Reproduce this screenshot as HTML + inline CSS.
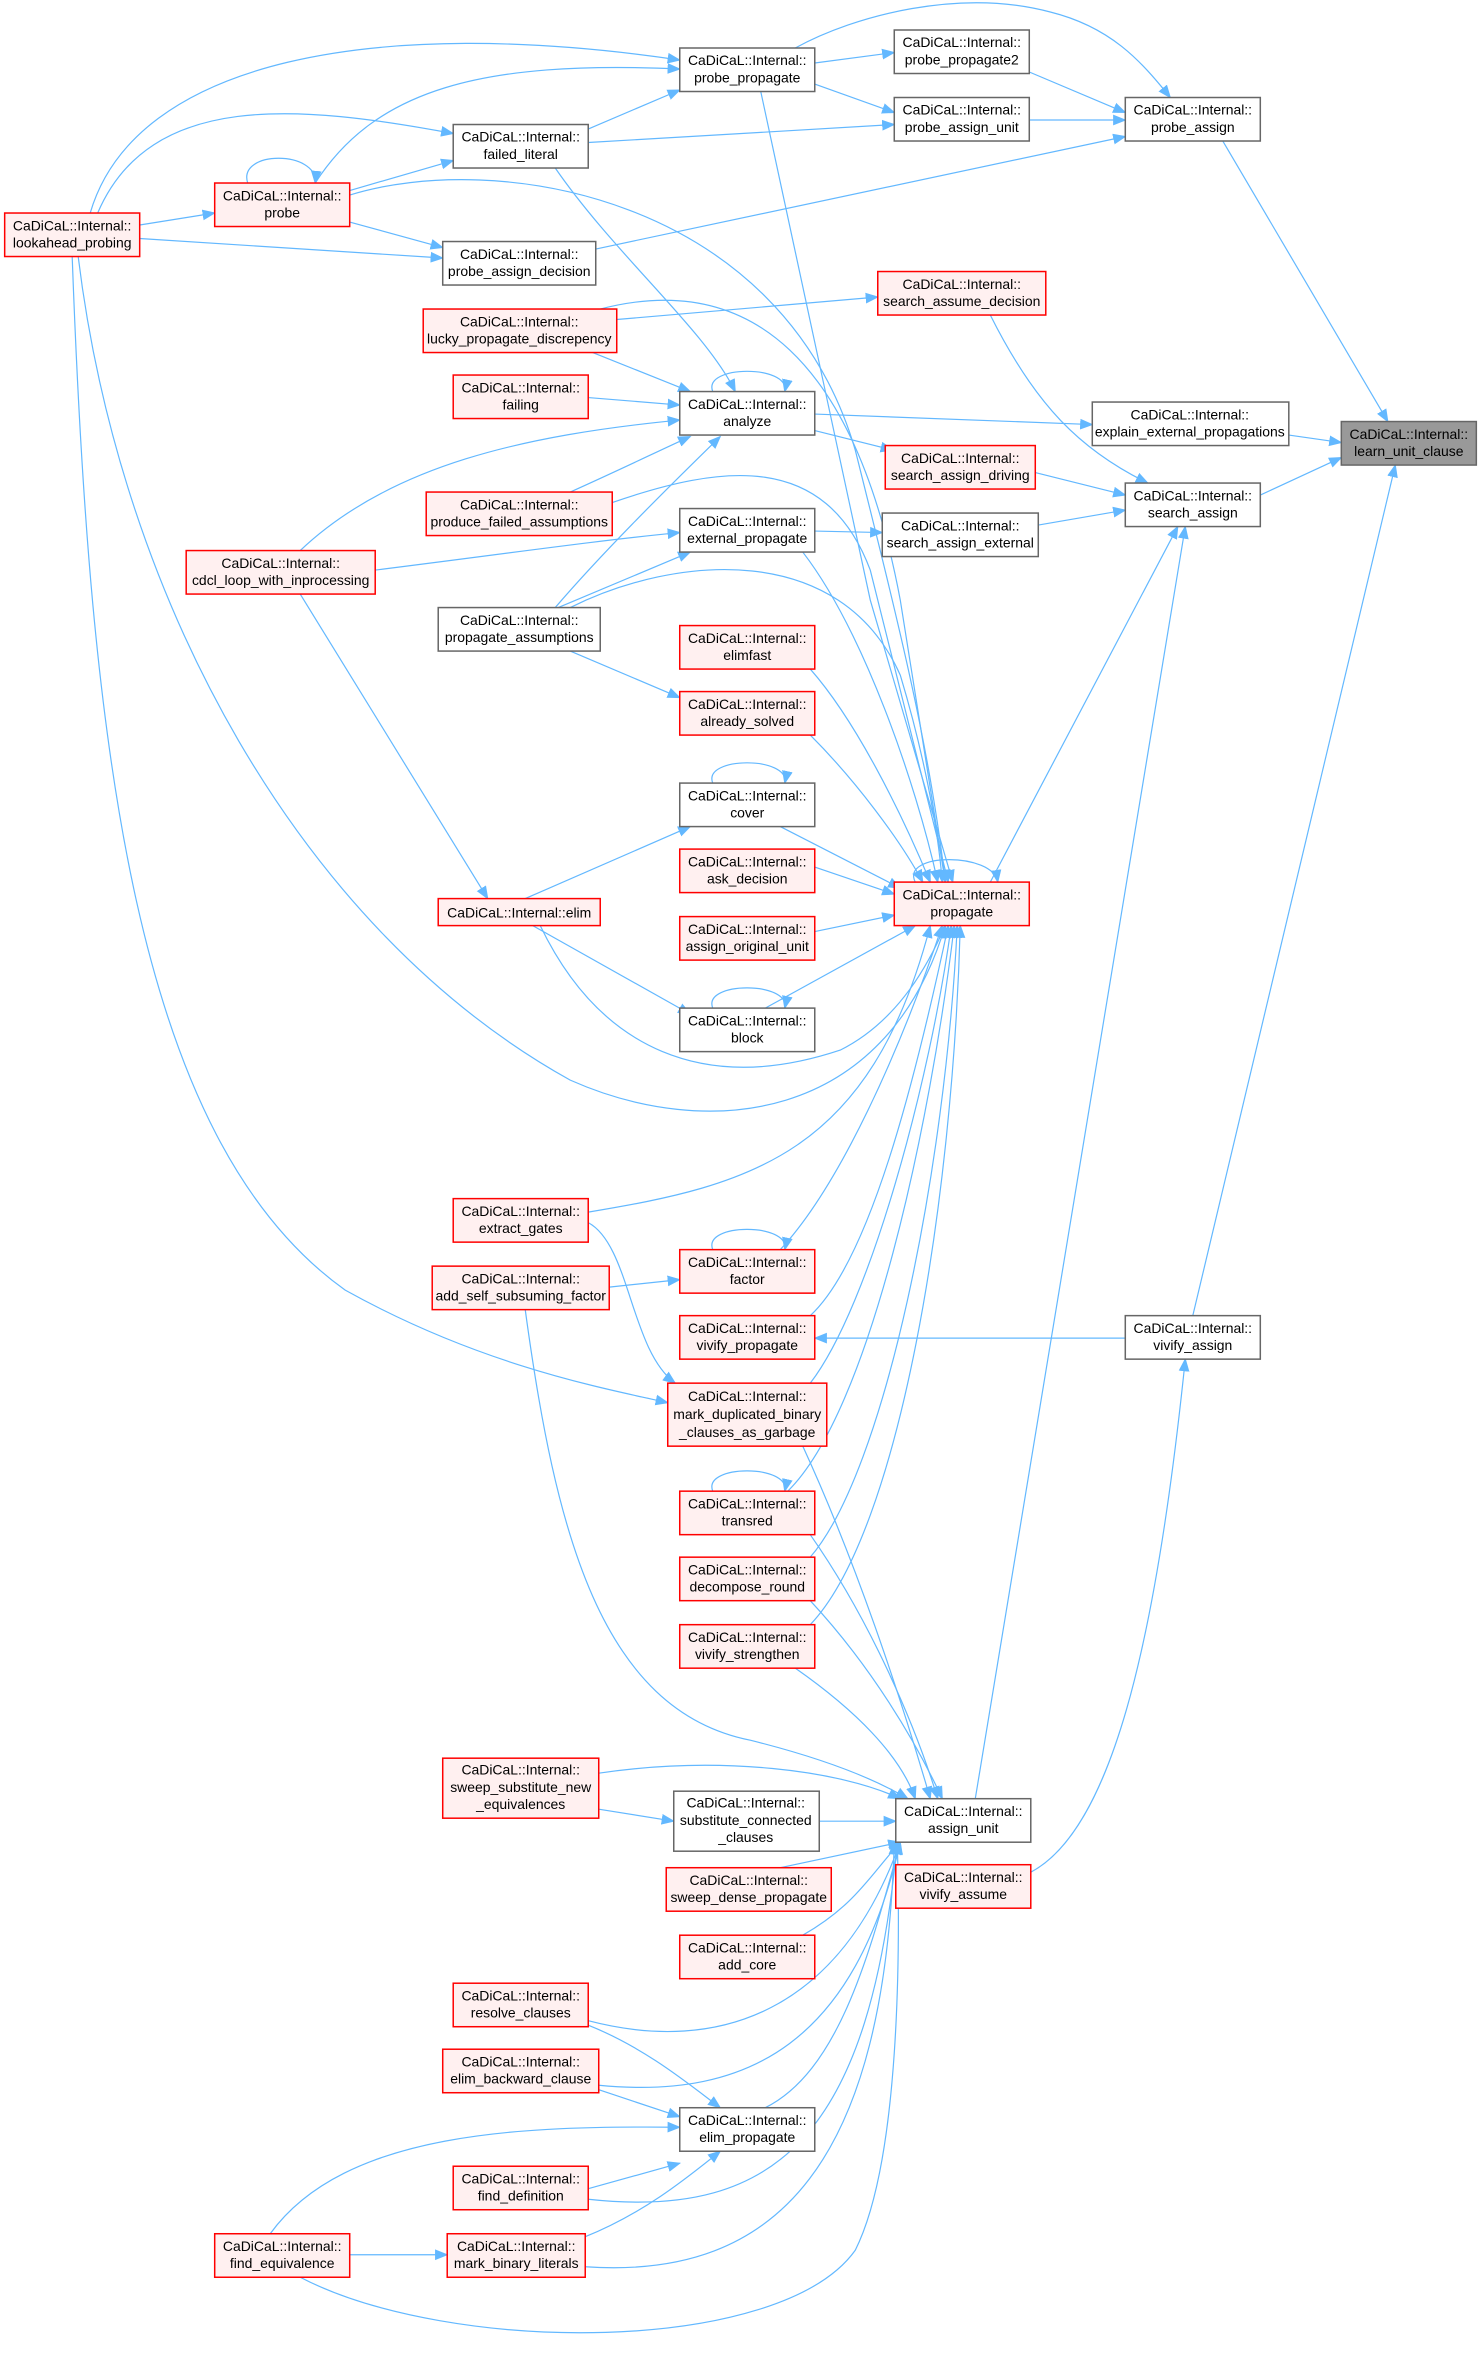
<!DOCTYPE html>
<html><head><meta charset="utf-8"><style>
html,body{margin:0;padding:0;background:#fff;}
svg{display:block}
text{font-family:"Liberation Sans",Arial,sans-serif;font-size:9.3px;fill:#000;text-anchor:middle}
.w{fill:#fff;stroke:#666;stroke-width:1}
.r{fill:#fff0f0;stroke:#f00;stroke-width:1}
.g{fill:#999;stroke:#666;stroke-width:1}
path.e{fill:none;stroke:#63b8ff;stroke-width:0.8;marker-end:url(#a)}
</style></head><body>
<svg width="1478" height="2353" viewBox="0 0 985 1568.5" xmlns="http://www.w3.org/2000/svg">
<defs><marker id="a" viewBox="0 0 10 10" refX="9" refY="5" markerWidth="9" markerHeight="9" markerUnits="userSpaceOnUse" orient="auto"><path d="M0,1 L10,5 L0,9 z" fill="#63b8ff"/></marker></defs>
<g>
<path class="e" d="M543,42 L596,35"/>
<path class="e" d="M543,56 L596,75"/>
<path class="e" d="M686,48 L750,75"/>
<path class="e" d="M686,80 L750,80"/>
<path class="e" d="M815,94 L925,281"/>
<path class="e" d="M530,32 C570,10 640,-8 700,8 C740,18 760,40 780,65"/>
<path class="e" d="M392,86 L453,60"/>
<path class="e" d="M392,95 L596,83"/>
<path class="e" d="M233,127 L302,107"/>
<path class="e" d="M165,122 C158,100 212,100 210,122"/>
<path class="e" d="M210,122 C250,60 320,40 453,46"/>
<path class="e" d="M233,148 L295,165"/>
<path class="e" d="M93,150 L143,142"/>
<path class="e" d="M93,159 L295,172"/>
<path class="e" d="M60,142 C90,40 250,10 453,40"/>
<path class="e" d="M65,142 C100,60 200,70 302,89"/>
<path class="e" d="M397,166 L750,91"/>
<path class="e" d="M660,210 C690,270 720,300 765,322"/>
<path class="e" d="M411,213 L585,198"/>
<path class="e" d="M395,235 L460,261"/>
<path class="e" d="M392,265 L453,270"/>
<path class="e" d="M475,261 C468,243 527,243 523,261"/>
<path class="e" d="M370,112 C410,170 470,220 490,261"/>
<path class="e" d="M543,276 L728,283"/>
<path class="e" d="M859,290 L894,295"/>
<path class="e" d="M543,287 L595,300"/>
<path class="e" d="M690,315 L750,330"/>
<path class="e" d="M840,330 L894,305"/>
<path class="e" d="M692,350 L750,340"/>
<path class="e" d="M543,354 L588,355"/>
<path class="e" d="M380,328 C420,310 440,300 460,291"/>
<path class="e" d="M200,367 C260,310 350,290 453,280"/>
<path class="e" d="M250,380 C330,370 400,360 453,355"/>
<path class="e" d="M370,405 C400,370 440,330 480,291"/>
<path class="e" d="M372,405 L460,368"/>
<path class="e" d="M380,434 L453,465"/>
<path class="e" d="M350,599 L460,551"/>
<path class="e" d="M475,522 C468,504 527,504 523,522"/>
<path class="e" d="M200,396 L325,599"/>
<path class="e" d="M355,617 L460,676"/>
<path class="e" d="M475,672 C468,654 527,654 523,672"/>
<path class="e" d="M520,551 L600,592"/>
<path class="e" d="M543,578 L596,596"/>
<path class="e" d="M543,621 L596,610"/>
<path class="e" d="M510,672 L610,617"/>
<path class="e" d="M540,446 C570,480 600,540 620,588"/>
<path class="e" d="M540,490 C570,520 600,560 615,588"/>
<path class="e" d="M535,368 C575,420 610,520 625,588"/>
<path class="e" d="M380,405 C450,370 560,360 600,450 C615,500 625,550 628,588"/>
<path class="e" d="M233,130 C330,100 520,130 570,300 C600,420 620,500 630,588"/>
<path class="e" d="M400,206 C500,180 570,240 600,400 L630,588"/>
<path class="e" d="M408,335 C480,310 550,300 580,380 L632,588"/>
<path class="e" d="M507,61 L580,400 L635,588"/>
<path class="e" d="M610,588 C600,568 662,568 665,588"/>
<path class="e" d="M660,588 L785,351"/>
<path class="e" d="M360,617 C400,700 470,730 560,700 C600,680 620,640 630,617"/>
<path class="e" d="M52,171 C80,400 200,620 380,720 C470,760 590,750 630,617"/>
<path class="e" d="M392,808 C500,790 580,770 620,617"/>
<path class="e" d="M520,833 C560,790 600,700 628,617"/>
<path class="e" d="M540,877 C580,840 610,720 632,617"/>
<path class="e" d="M540,922 C580,870 620,720 634,617"/>
<path class="e" d="M525,994 C580,940 620,750 636,617"/>
<path class="e" d="M540,1038 C590,980 630,780 638,617"/>
<path class="e" d="M540,1083 C600,1020 635,800 640,617"/>
<path class="e" d="M406,858 L453,853"/>
<path class="e" d="M475,833 C468,815 527,815 523,833"/>
<path class="e" d="M392,815 C420,830 420,900 450,922"/>
<path class="e" d="M48,171 C60,500 90,760 230,860 C320,910 400,925 445,935"/>
<path class="e" d="M475,994 C468,976 527,976 523,994"/>
<path class="e" d="M750,892 L543,892"/>
<path class="e" d="M795,877 L930,310"/>
<path class="e" d="M687,1248 C740,1220 770,1100 790,906"/>
<path class="e" d="M650,1199 L790,351"/>
<path class="e" d="M535,964 C570,1040 600,1130 620,1199"/>
<path class="e" d="M540,1023 C580,1080 610,1150 625,1199"/>
<path class="e" d="M540,1067 C580,1110 610,1160 628,1199"/>
<path class="e" d="M530,1112 C570,1140 600,1170 610,1199"/>
<path class="e" d="M350,873 C370,1020 400,1140 500,1160 C560,1175 590,1190 605,1199"/>
<path class="e" d="M399,1182 C480,1170 560,1180 600,1199"/>
<path class="e" d="M399,1206 L449,1214"/>
<path class="e" d="M546,1214 L597,1214"/>
<path class="e" d="M520,1245 L600,1228"/>
<path class="e" d="M535,1290 C570,1270 580,1250 600,1228"/>
<path class="e" d="M392,1347 C480,1370 560,1340 600,1228"/>
<path class="e" d="M399,1390 C500,1400 570,1360 600,1228"/>
<path class="e" d="M392,1350 C430,1365 460,1390 480,1405"/>
<path class="e" d="M399,1393 L453,1411"/>
<path class="e" d="M180,1489 C230,1420 350,1417 453,1418"/>
<path class="e" d="M392,1459 L453,1442"/>
<path class="e" d="M390,1491 C430,1475 460,1450 480,1434"/>
<path class="e" d="M392,1466 C520,1480 580,1420 598,1228"/>
<path class="e" d="M390,1511 C520,1520 590,1440 596,1228"/>
<path class="e" d="M233,1503 L298,1503"/>
<path class="e" d="M200,1518 C300,1570 520,1570 570,1500 C600,1440 600,1300 598,1228"/>
<path class="e" d="M510,1405 C560,1380 580,1300 600,1228"/>
</g>
<g>
<rect class="w" x="453" y="32" width="90" height="29"/><text x="498" y="43.5">CaDiCaL::Internal::</text><text x="498" y="55">probe_propagate</text>
<rect class="w" x="596" y="20" width="90" height="29"/><text x="641" y="31.5">CaDiCaL::Internal::</text><text x="641" y="43">probe_propagate2</text>
<rect class="w" x="596" y="65" width="90" height="29"/><text x="641" y="76.5">CaDiCaL::Internal::</text><text x="641" y="88">probe_assign_unit</text>
<rect class="w" x="750" y="65" width="90" height="29"/><text x="795" y="76.5">CaDiCaL::Internal::</text><text x="795" y="88">probe_assign</text>
<rect class="w" x="302" y="83" width="90" height="29"/><text x="347" y="94.5">CaDiCaL::Internal::</text><text x="347" y="106">failed_literal</text>
<rect class="r" x="143" y="122" width="90" height="29"/><text x="188" y="133.5">CaDiCaL::Internal::</text><text x="188" y="145">probe</text>
<rect class="r" x="3" y="142" width="90" height="29"/><text x="48" y="153.5">CaDiCaL::Internal::</text><text x="48" y="165">lookahead_probing</text>
<rect class="w" x="295" y="161" width="102" height="29"/><text x="346" y="172.5">CaDiCaL::Internal::</text><text x="346" y="184">probe_assign_decision</text>
<rect class="r" x="585" y="181" width="112" height="29"/><text x="641" y="192.5">CaDiCaL::Internal::</text><text x="641" y="204">search_assume_decision</text>
<rect class="r" x="282" y="206" width="129" height="29"/><text x="346" y="217.5">CaDiCaL::Internal::</text><text x="346" y="229">lucky_propagate_discrepency</text>
<rect class="r" x="302" y="250" width="90" height="29"/><text x="347" y="261.5">CaDiCaL::Internal::</text><text x="347" y="273">failing</text>
<rect class="w" x="453" y="261" width="90" height="29"/><text x="498" y="272.5">CaDiCaL::Internal::</text><text x="498" y="284">analyze</text>
<rect class="w" x="728" y="268" width="131" height="29"/><text x="793" y="279.5">CaDiCaL::Internal::</text><text x="793" y="291">explain_external_propagations</text>
<rect class="g" x="894" y="281" width="90" height="29"/><text x="939" y="292.5">CaDiCaL::Internal::</text><text x="939" y="304">learn_unit_clause</text>
<rect class="r" x="590" y="297" width="100" height="29"/><text x="640" y="308.5">CaDiCaL::Internal::</text><text x="640" y="320">search_assign_driving</text>
<rect class="w" x="750" y="322" width="90" height="29"/><text x="795" y="333.5">CaDiCaL::Internal::</text><text x="795" y="345">search_assign</text>
<rect class="r" x="284" y="328" width="124" height="29"/><text x="346" y="339.5">CaDiCaL::Internal::</text><text x="346" y="351">produce_failed_assumptions</text>
<rect class="w" x="453" y="339" width="90" height="29"/><text x="498" y="350.5">CaDiCaL::Internal::</text><text x="498" y="362">external_propagate</text>
<rect class="w" x="588" y="342" width="104" height="29"/><text x="640" y="353.5">CaDiCaL::Internal::</text><text x="640" y="365">search_assign_external</text>
<rect class="r" x="124" y="367" width="126" height="29"/><text x="187" y="378.5">CaDiCaL::Internal::</text><text x="187" y="390">cdcl_loop_with_inprocessing</text>
<rect class="w" x="292" y="405" width="108" height="29"/><text x="346" y="416.5">CaDiCaL::Internal::</text><text x="346" y="428">propagate_assumptions</text>
<rect class="r" x="453" y="417" width="90" height="29"/><text x="498" y="428.5">CaDiCaL::Internal::</text><text x="498" y="440">elimfast</text>
<rect class="r" x="453" y="461" width="90" height="29"/><text x="498" y="472.5">CaDiCaL::Internal::</text><text x="498" y="484">already_solved</text>
<rect class="w" x="453" y="522" width="90" height="29"/><text x="498" y="533.5">CaDiCaL::Internal::</text><text x="498" y="545">cover</text>
<rect class="r" x="453" y="566" width="90" height="29"/><text x="498" y="577.5">CaDiCaL::Internal::</text><text x="498" y="589">ask_decision</text>
<rect class="r" x="596" y="588" width="90" height="29"/><text x="641" y="599.5">CaDiCaL::Internal::</text><text x="641" y="611">propagate</text>
<rect class="r" x="292" y="599" width="108" height="18"/><text x="346" y="611.5">CaDiCaL::Internal::elim</text>
<rect class="r" x="453" y="611" width="90" height="29"/><text x="498" y="622.5">CaDiCaL::Internal::</text><text x="498" y="634">assign_original_unit</text>
<rect class="w" x="453" y="672" width="90" height="29"/><text x="498" y="683.5">CaDiCaL::Internal::</text><text x="498" y="695">block</text>
<rect class="r" x="302" y="799" width="90" height="29"/><text x="347" y="810.5">CaDiCaL::Internal::</text><text x="347" y="822">extract_gates</text>
<rect class="r" x="453" y="833" width="90" height="29"/><text x="498" y="844.5">CaDiCaL::Internal::</text><text x="498" y="856">factor</text>
<rect class="r" x="288" y="844" width="118" height="29"/><text x="347" y="855.5">CaDiCaL::Internal::</text><text x="347" y="867">add_self_subsuming_factor</text>
<rect class="r" x="453" y="877" width="90" height="29"/><text x="498" y="888.5">CaDiCaL::Internal::</text><text x="498" y="900">vivify_propagate</text>
<rect class="w" x="750" y="877" width="90" height="29"/><text x="795" y="888.5">CaDiCaL::Internal::</text><text x="795" y="900">vivify_assign</text>
<rect class="r" x="445" y="922" width="106" height="42"/><text x="498" y="934">CaDiCaL::Internal::</text><text x="498" y="946">mark_duplicated_binary</text><text x="498" y="958">_clauses_as_garbage</text>
<rect class="r" x="453" y="994" width="90" height="29"/><text x="498" y="1005.5">CaDiCaL::Internal::</text><text x="498" y="1017">transred</text>
<rect class="r" x="453" y="1038" width="90" height="29"/><text x="498" y="1049.5">CaDiCaL::Internal::</text><text x="498" y="1061">decompose_round</text>
<rect class="r" x="453" y="1083" width="90" height="29"/><text x="498" y="1094.5">CaDiCaL::Internal::</text><text x="498" y="1106">vivify_strengthen</text>
<rect class="r" x="295" y="1172" width="104" height="40"/><text x="347" y="1183">CaDiCaL::Internal::</text><text x="347" y="1194.5">sweep_substitute_new</text><text x="347" y="1206">_equivalences</text>
<rect class="w" x="449" y="1194" width="97" height="40"/><text x="497" y="1205">CaDiCaL::Internal::</text><text x="497" y="1216.5">substitute_connected</text><text x="497" y="1228">_clauses</text>
<rect class="w" x="597" y="1199" width="90" height="29"/><text x="642" y="1210.5">CaDiCaL::Internal::</text><text x="642" y="1222">assign_unit</text>
<rect class="r" x="444" y="1245" width="110" height="29"/><text x="499" y="1256.5">CaDiCaL::Internal::</text><text x="499" y="1268">sweep_dense_propagate</text>
<rect class="r" x="597" y="1243" width="90" height="29"/><text x="642" y="1254.5">CaDiCaL::Internal::</text><text x="642" y="1266">vivify_assume</text>
<rect class="r" x="453" y="1290" width="90" height="29"/><text x="498" y="1301.5">CaDiCaL::Internal::</text><text x="498" y="1313">add_core</text>
<rect class="r" x="302" y="1322" width="90" height="29"/><text x="347" y="1333.5">CaDiCaL::Internal::</text><text x="347" y="1345">resolve_clauses</text>
<rect class="r" x="295" y="1366" width="104" height="29"/><text x="347" y="1377.5">CaDiCaL::Internal::</text><text x="347" y="1389">elim_backward_clause</text>
<rect class="w" x="453" y="1405" width="90" height="29"/><text x="498" y="1416.5">CaDiCaL::Internal::</text><text x="498" y="1428">elim_propagate</text>
<rect class="r" x="302" y="1444" width="90" height="29"/><text x="347" y="1455.5">CaDiCaL::Internal::</text><text x="347" y="1467">find_definition</text>
<rect class="r" x="143" y="1489" width="90" height="29"/><text x="188" y="1500.5">CaDiCaL::Internal::</text><text x="188" y="1512">find_equivalence</text>
<rect class="r" x="298" y="1489" width="92" height="29"/><text x="344" y="1500.5">CaDiCaL::Internal::</text><text x="344" y="1512">mark_binary_literals</text>
</g>
</svg>
</body></html>
